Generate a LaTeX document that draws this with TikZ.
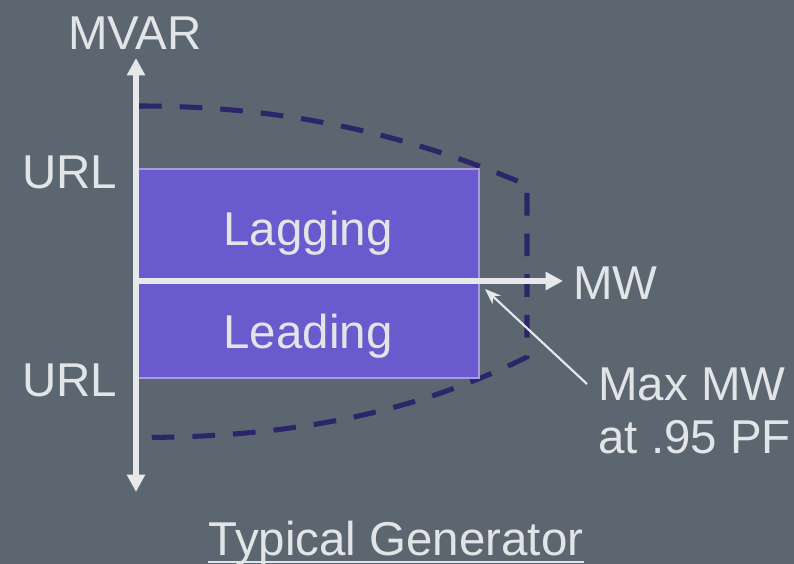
\documentclass[tikz,border=0pt]{standalone}
\usepackage{fontspec}
\setmainfont{Liberation Sans}
\usetikzlibrary{arrows.meta}
\definecolor{bgc}{RGB}{91,102,112}
\definecolor{txt}{RGB}{226,229,231}
\definecolor{axisc}{RGB}{230,232,234}
\definecolor{boxfill}{RGB}{106,90,205}
\definecolor{boxline}{RGB}{165,155,225}
\definecolor{limitc}{RGB}{42,38,104}
\tikzset{
  lbl/.style={text=txt, font=\fontsize{35.6}{42}\selectfont, inner sep=0pt, anchor=base},
  axisline/.style={draw=axisc, line width=4.2pt, -{Triangle[width=13pt,length=13pt]}},
  region/.style={fill=boxfill, draw=boxline, line width=1.2pt, inner sep=0pt, anchor=north west,
                 minimum width=256.5pt, minimum height=156.75pt},
  limit/.style={draw=limitc, line width=3.8pt, dash pattern=on 17pt off 13.5pt},
  pointer/.style={draw=axisc, line width=1.6pt, -{Stealth[width=9pt,length=12pt]}},
}
\begin{document}
\begin{tikzpicture}[x=0.75pt, y=-0.75pt]
  \useasboundingbox (0,0) rectangle (794,564);
  \fill[bgc] (0,0) rectangle (794,564);

  % capability limit (dashed)
  \draw[limit] (139,106) .. controls (300,106) and (420,140) .. (527,185)
               -- (527,357) .. controls (420,410) and (300,437.5) .. (139,437.5);

  % operating region
  \node[region] (box) at (136,168) {};
  \node[lbl] (lag) at (308,245) {Lagging};
  \node[lbl] (lead) at (308,348) {Leading};

  % axes
  \coordinate (o) at (136,281);
  \coordinate (ytop) at (136,58);
  \coordinate (ybot) at (136,492);
  \coordinate (xend) at (563,281);
  \draw[axisline] (o) -- (ytop);
  \draw[axisline] (o) -- (ybot);
  \draw[axisline] (o) -- (xend);

  % axis labels
  \node[lbl] (mvar) at (135,50) {MVAR};
  \node[lbl, anchor=base west] (urlt) at (22,188) {URL};
  \node[lbl, anchor=base west] (urlb) at (22,396) {URL};
  \node[lbl, anchor=base west] (mw) at (573,299) {MW};

  % annotation
  \node[lbl, anchor=base west] (max1) at (598,400) {Max MW};
  \node[lbl, anchor=base west] (max2) at (598,453) {at .95 PF};
  \coordinate (ptip) at (485,289);
  \coordinate (pstart) at (587,384);
  \draw[pointer] (pstart) -- (ptip);

  % caption
  \node[lbl] (title) at (396,555) {Typical Generator};
  \draw[draw=txt, line width=1.5pt] ([yshift=-5pt]title.base west) -- ([yshift=-5pt]title.base east);
\end{tikzpicture}
\end{document}
